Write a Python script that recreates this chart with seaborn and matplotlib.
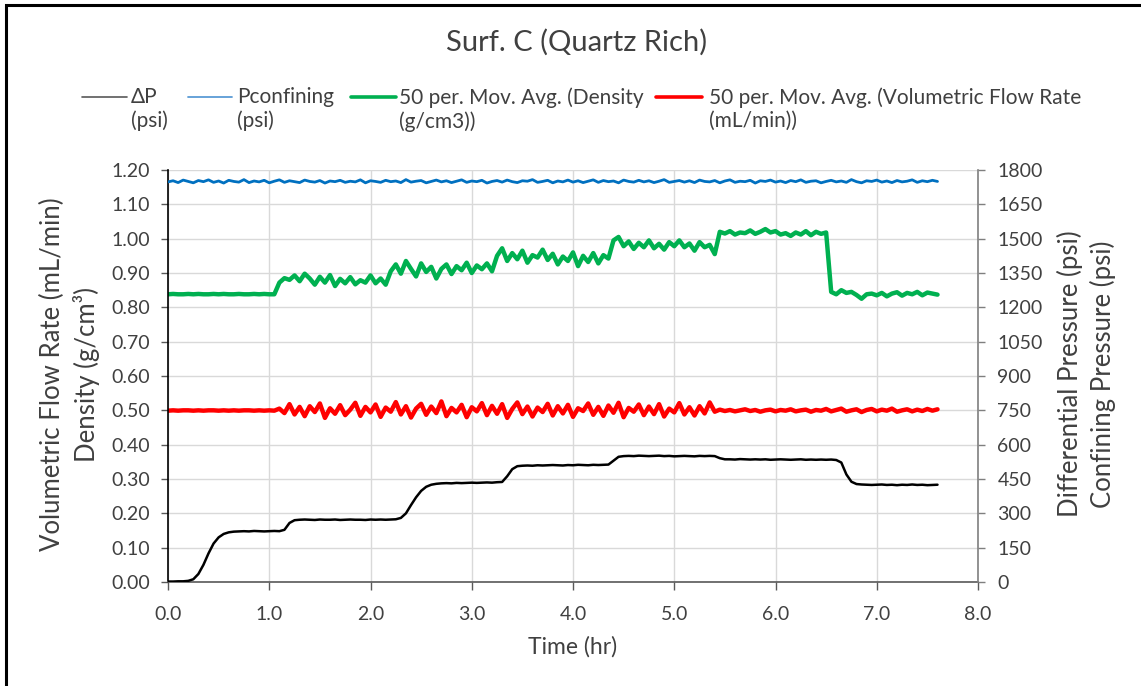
import numpy as np
import pandas as pd
import matplotlib
matplotlib.use("Agg")
import matplotlib.pyplot as plt
from matplotlib.lines import Line2D
from matplotlib.patches import Rectangle
import seaborn as sns

# sample times (hr), one reading every 0.05 hr
time_hr = np.round(np.arange(153) * 0.05, 2)

# 50 per. moving average of density (g/cm3), left axis
density = [
    0.838, 0.839, 0.838, 0.838, 0.839, 0.838, 0.839, 0.838, 0.838, 0.839, 0.838,
    0.839, 0.838, 0.838, 0.839, 0.838, 0.838, 0.839, 0.838, 0.839, 0.838, 0.838,
    0.872, 0.885, 0.880, 0.893, 0.876, 0.898, 0.884, 0.866, 0.889, 0.872, 0.894,
    0.862, 0.883, 0.870, 0.888, 0.867, 0.879, 0.872, 0.893, 0.870, 0.884, 0.866,
    0.905, 0.925, 0.898, 0.935, 0.912, 0.890, 0.928, 0.903, 0.918, 0.884, 0.912,
    0.925, 0.897, 0.920, 0.908, 0.930, 0.900, 0.922, 0.911, 0.928, 0.905,
    0.950, 0.972, 0.935, 0.958, 0.940, 0.965, 0.930, 0.952, 0.945, 0.968, 0.938,
    0.956, 0.925, 0.948, 0.935, 0.960, 0.920, 0.950, 0.932, 0.958, 0.928, 0.952, 0.942,
    0.995, 1.005, 0.978, 0.992, 0.970, 0.988, 0.975, 0.995, 0.972, 0.985, 0.968,
    0.990, 0.978, 0.995, 0.975, 0.986, 0.965, 0.990, 0.975, 0.982, 0.955,
    1.020, 1.015, 1.022, 1.012, 1.018, 1.016, 1.024, 1.014, 1.020, 1.028, 1.018,
    1.022, 1.012, 1.016, 1.008, 1.018, 1.012, 1.022, 1.010, 1.020, 1.014, 1.018,
    0.845, 0.838, 0.850, 0.842, 0.845, 0.836, 0.825, 0.838, 0.840, 0.835, 0.842,
    0.832, 0.840, 0.844, 0.834, 0.842, 0.838, 0.845, 0.835, 0.843, 0.840, 0.837,
]

# 50 per. moving average of volumetric flow rate (mL/min), left axis
flow_rate = [
    0.499, 0.500, 0.499, 0.500, 0.500, 0.499, 0.500, 0.499, 0.500, 0.500, 0.499,
    0.500, 0.499, 0.500, 0.499, 0.500, 0.500, 0.499, 0.500, 0.499, 0.500, 0.499,
    0.505, 0.492, 0.518, 0.488, 0.510, 0.483, 0.512, 0.495, 0.520, 0.478, 0.506,
    0.490, 0.515, 0.486, 0.502, 0.522, 0.484, 0.510, 0.494, 0.517, 0.481, 0.508,
    0.496, 0.524, 0.488, 0.512, 0.479, 0.505, 0.519, 0.487, 0.511, 0.492, 0.526,
    0.483, 0.507, 0.494, 0.516, 0.480, 0.509, 0.497, 0.521, 0.486, 0.513, 0.490,
    0.518, 0.478, 0.504, 0.523, 0.489, 0.511, 0.482, 0.508, 0.495, 0.519, 0.485,
    0.512, 0.491, 0.516, 0.481, 0.506, 0.498, 0.520, 0.487, 0.510, 0.484, 0.514,
    0.493, 0.522, 0.480, 0.507, 0.496, 0.517, 0.486, 0.511, 0.489, 0.518, 0.482,
    0.505, 0.494, 0.521, 0.488, 0.509, 0.485, 0.512, 0.491, 0.523, 0.496,
    0.502, 0.498, 0.501, 0.497, 0.500, 0.503, 0.498, 0.501, 0.496, 0.500, 0.502,
    0.497, 0.501, 0.499, 0.503, 0.497, 0.500, 0.502, 0.496, 0.501, 0.499, 0.504,
    0.497, 0.501, 0.505, 0.496, 0.500, 0.503, 0.495, 0.501, 0.504, 0.497, 0.502,
    0.499, 0.505, 0.496, 0.500, 0.503, 0.497, 0.502, 0.498, 0.504, 0.499, 0.503,
]

# confining pressure (psi), right axis
p_confining = [
    1748, 1753, 1745, 1756, 1750, 1744, 1754, 1749, 1757, 1746, 1752, 1743, 1755, 1750, 1747, 1758, 1745,
    1752, 1748, 1755, 1744, 1751, 1757, 1746, 1753, 1749, 1745, 1756, 1750, 1747, 1754, 1743, 1752, 1749,
    1755, 1746, 1751, 1748, 1757, 1744, 1753, 1750, 1746, 1755, 1749, 1752, 1745, 1758, 1747, 1751, 1754,
    1744, 1750, 1756, 1748, 1753, 1745, 1751, 1757, 1746, 1752, 1749, 1755, 1743, 1750, 1754, 1747, 1756,
    1749, 1745, 1753, 1751, 1758, 1746, 1750, 1755, 1744, 1752, 1748, 1756, 1747, 1753, 1745, 1751, 1757,
    1746, 1754, 1749, 1752, 1744, 1756, 1750, 1747, 1755, 1748, 1753, 1745, 1751, 1758, 1746, 1750, 1754,
    1747, 1753, 1745, 1756, 1750, 1748, 1754, 1744, 1752, 1757, 1746, 1751, 1749, 1755, 1743, 1753, 1750,
    1756, 1747, 1752, 1745, 1754, 1749, 1757, 1746, 1751, 1753, 1744, 1750, 1755, 1748, 1752, 1746, 1758,
    1749, 1744, 1753, 1750, 1756, 1747, 1752, 1745, 1754, 1748, 1751, 1757, 1746, 1753, 1749, 1755, 1750,
]

# differential pressure (psi), right axis
delta_p = [
    2, 2, 3, 3, 5, 12, 35, 75, 125, 168, 195, 210, 217, 220, 221,
    222, 221, 223, 222, 221, 222, 223, 222,
    228, 258, 270,
    272, 273, 272, 271, 273, 272, 272, 273, 271, 272, 273, 272, 272, 271, 273, 272, 273, 272, 273, 274,
    280, 300, 336, 370, 398, 416, 425, 429,
    431, 432, 431, 433, 432, 433, 434, 433, 434, 435, 434, 436, 437,
    462, 493, 506,
    508, 509, 508, 510, 509, 510, 511, 510, 509, 511, 510, 512, 511, 510, 512, 511, 512, 513,
    530, 547,
    550, 551, 550, 552, 551, 550, 551, 552, 550, 551, 549, 550, 551, 550, 549, 551, 550, 551, 550,
    541, 536,
    536, 535, 537, 536, 535, 536, 535, 536, 534, 535, 536, 535, 534, 535, 536, 534, 535, 534, 535, 534, 535, 533,
    522, 470, 438, 428,
    426, 425, 424, 425, 426, 424, 425, 423, 425, 424, 426, 424, 425, 423, 424, 425,
]

left_ticks = np.round(np.arange(0, 1.21, 0.1), 2)
right_ticks = np.arange(0, 1801, 150)
x_ticks = np.arange(0, 8.1, 1.0)

df = pd.DataFrame({
    'time': time_hr,
    'density': density,
    'flow': flow_rate,
    'pconf': p_confining,
    'dp': delta_p,
})

sns.set_theme(style="white")
plt.rcParams['font.family'] = ['Lato', 'DejaVu Sans']

W, H = 1141, 686
fig = plt.figure(figsize=(W / 100, H / 100), dpi=100)
ax = fig.add_axes([168 / W, 1 - 582 / H, 810 / W, 412 / H])
ax2 = ax.twinx()

text_c = '#404040'
c_dp, c_pc, c_den, c_flow = '#000000', '#0070C0', '#00B050', '#FF0000'

sns.lineplot(data=df, x='time', y='density', ax=ax, color=c_den, lw=3.2, legend=False)
sns.lineplot(data=df, x='time', y='flow', ax=ax, color=c_flow, lw=3.2, legend=False)
sns.lineplot(data=df, x='time', y='dp', ax=ax2, color=c_dp, lw=1.8, legend=False)
sns.lineplot(data=df, x='time', y='pconf', ax=ax2, color=c_pc, lw=2.0, legend=False)

ax.set_xlim(0, 8)
ax.set_ylim(0, 1.2)
ax2.set_ylim(0, 1800)
ax.set_xticks(x_ticks)
ax.set_xticklabels([f'{v:.1f}' for v in x_ticks])
ax.set_yticks(left_ticks)
ax.set_yticklabels([f'{v:.2f}' for v in left_ticks])
ax2.set_yticks(right_ticks)
ax2.set_yticklabels([str(v) for v in right_ticks])

ax.grid(True, color='#D9D9D9', lw=1.0)
ax.set_axisbelow(True)

for a in (ax, ax2):
    a.spines['top'].set_visible(False)
ax.spines['right'].set_visible(False)
ax.spines['left'].set_color('#000000')
ax.spines['bottom'].set_color('#595959')
ax2.spines['left'].set_visible(False)
ax2.spines['bottom'].set_visible(False)
ax2.spines['right'].set_color('#7F7F7F')
for s in ('left', 'bottom'):
    ax.spines[s].set_linewidth(1.2)
ax2.spines['right'].set_linewidth(1.2)

ax.tick_params(axis='y', left=True, direction='out', length=5, width=1, color='#595959',
               labelsize=14, labelcolor=text_c, pad=8)
ax.tick_params(axis='x', bottom=True, direction='out', length=6, width=1, color='#595959',
               labelsize=14, labelcolor=text_c, pad=11)
ax2.tick_params(axis='y', right=True, direction='out', length=5, width=1, color='#7F7F7F',
                labelsize=14, labelcolor=text_c, pad=9)

ax.set_xlabel('Time (hr)', fontsize=16.5, color=text_c, labelpad=10)
ax.set_ylabel('')
ax2.set_ylabel('')

# two-line axis titles, each line placed like the spreadsheet's
y_mid = 1 - 374 / H
for xc, lab in [(52, 'Volumetric Flow Rate (mL/min)'), (87, 'Density (g/cm³)'),
                (1070, 'Differential Pressure (psi)'), (1103, 'Confining Pressure (psi)')]:
    fig.text(xc / W, y_mid, lab, rotation=90, ha='center', va='center',
             fontsize=18.5, color=text_c)

fig.text(577 / W, 1 - 42 / H, 'Surf. C (Quartz Rich)', ha='center', va='center',
         fontsize=21, color=text_c)

# legend laid out like the spreadsheet one: handle beside the first text line
entries = [
    (82, 127, 131, '#595959', 1.2, 'ΔP\n(psi)'),
    (188, 232, 237, '#5B9BD5', 1.3, 'Pconfining\n(psi)'),
    (351, 396, 399, c_den, 2.6, '50 per. Mov. Avg. (Density\n(g/cm3))'),
    (656, 702, 709, c_flow, 2.6, '50 per. Mov. Avg. (Volumetric Flow Rate\n(mL/min))'),
]
leg_y = 96.5
for x0, x1, xt, col, lw, lab in entries:
    fig.add_artist(Line2D([x0 / W, x1 / W], [1 - leg_y / H, 1 - leg_y / H], color=col, lw=lw))
    fig.text(xt / W, 1 - 87 / H, lab, ha='left', va='top', fontsize=15,
             color=text_c, linespacing=1.2)

# chart area border
fig.add_artist(Rectangle((5.5 / W, -0.1), 1.2, 1.1 - 4.5 / H, transform=fig.transFigure,
                         fill=False, ec='black', lw=2.2))

fig.savefig('out.png', dpi=100)
